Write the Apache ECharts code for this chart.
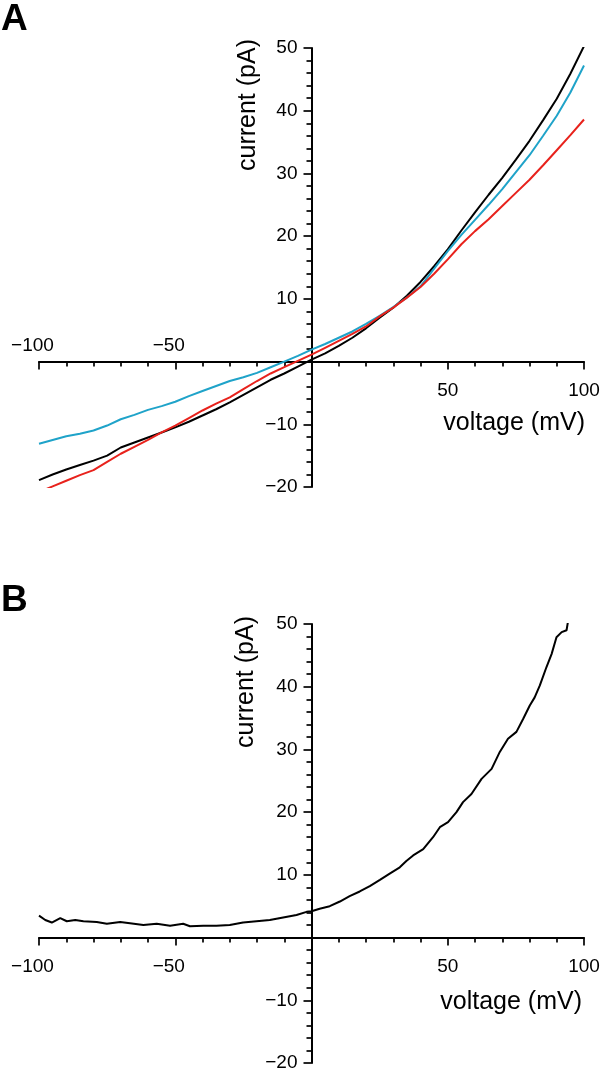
<!DOCTYPE html>
<html><head><meta charset="utf-8">
<script src="https://cdn.jsdelivr.net/npm/echarts@6/dist/echarts.min.js"></script>
<style>html,body{margin:0;padding:0;background:#fff}#c{width:602px;height:1079px}</style>
</head><body><div id="c"></div>
<script>
// ---- Panel A data (voltage mV, current pA) ----
const voltageA = [-100,-95,-90,-85,-80,-75,-70,-65,-60,-55,-50,-45,-40,-35,-30,-25,-20,-15,-10,-5,0,5,10,15,20,25,30,35,40,45,50,55,60,65,70,75,80,85,90,95,100];
const blackA = [-18.9,-18.0,-17.2,-16.5,-15.8,-15.0,-13.7,-12.9,-12.1,-11.3,-10.5,-9.6,-8.6,-7.6,-6.5,-5.3,-4.1,-2.9,-1.9,-0.8,0.3,1.3,2.5,3.8,5.3,7.0,8.6,10.5,12.7,15.2,17.9,20.9,23.8,26.6,29.3,32.2,35.2,38.5,41.9,45.9,50.3];
const cyanA = [-13.1,-12.5,-11.9,-11.5,-11.0,-10.2,-9.2,-8.5,-7.7,-7.1,-6.4,-5.5,-4.7,-3.9,-3.1,-2.5,-1.8,-0.9,0.0,0.9,1.9,2.8,3.8,4.8,6.0,7.3,8.7,10.2,12.0,14.8,17.6,20.2,22.6,25.0,27.5,30.2,32.9,36.0,39.2,42.9,47.2];
const redA = [-20.8,-19.9,-19.0,-18.1,-17.3,-16.0,-14.7,-13.6,-12.5,-11.3,-10.2,-9.0,-7.8,-6.7,-5.7,-4.4,-3.1,-1.9,-0.9,0.1,1.1,2.2,3.3,4.4,5.6,7.2,8.6,10.2,11.9,14.0,16.3,18.7,20.8,22.7,24.8,26.9,29.0,31.3,33.7,36.1,38.6];

// ---- Panel B data ----
const voltageB = [-100,-99.3,-97.7,-95.3,-92.2,-89.8,-86.7,-83.7,-78.8,-75.1,-70.2,-66.6,-61.7,-56.8,-51.9,-47.1,-44.6,-39.7,-34.9,-30,-25.1,-20.2,-15.3,-10.4,-5.5,-1.8,0,3,6.7,10.4,14,17.7,21.4,25.1,28.7,32.4,34.8,37.3,41,44.6,47.1,50.1,53.2,55.6,58.7,62.4,66.1,69.1,72.1,75.2,77.7,80.1,81.9,83.8,86.2,88.1,89.9,91.8,93.6,94.2];
const currentB = [3.5,3.8,2.8,2.4,3.1,2.6,2.8,2.6,2.5,2.2,2.5,2.3,2.0,2.2,1.9,2.2,1.8,1.9,1.9,2.0,2.4,2.6,2.8,3.2,3.6,4.1,4.2,4.6,5.0,5.75,6.6,7.35,8.2,9.2,10.2,11.2,12.2,13.1,14.1,16.0,17.6,18.4,20.0,21.6,22.9,25.3,26.9,29.6,31.7,32.8,34.9,37.0,38.3,40.2,43.1,45.2,47.9,48.7,49.0,50.6];

// ---- Axis / text ----
const xRange = [-100, 100];
const yRange = [-20, 50];
const xLabel = 'voltage (mV)';
const yLabel = 'current (pA)';
const panelLabels = ['A', 'B'];

const FONT = '"Liberation Sans", Arial, Helvetica, sans-serif';
const LBL = 19;
const minus = v => (v < 0 ? '\u2212' + (-v) : String(v));

const chart = echarts.init(document.getElementById('c'), null, {renderer: 'canvas'});

const W = 602;
const grids = [
  {left: 39, right: 18, top: 48, height: 439},
  {left: 39, right: 18, top: 624, height: 439}
];
// offsets that place each axis line at the other axis' zero
const xAxisOffset = g => -g.height * (0 - yRange[0]) / (yRange[1] - yRange[0]);
const yAxisOffset = g => -(W - g.left - g.right) * (0 - xRange[0]) / (xRange[1] - xRange[0]);

const axisLineStyle = {color: '#000', width: 2};
const tickStyle = {color: '#000', width: 1.7};

function xAxisBase(gridIndex) {
  return {
    gridIndex, type: 'value', min: xRange[0], max: xRange[1], interval: 50,
    position: 'bottom', offset: xAxisOffset(grids[gridIndex]),
    splitLine: {show: false}, minorSplitLine: {show: false},
    axisLine: {show: true, onZero: false, lineStyle: axisLineStyle},
    axisTick: {show: true, length: 8, lineStyle: tickStyle},
    minorTick: {show: true, splitNumber: 5, length: 5, lineStyle: tickStyle}
  };
}

const negRich = {
  d: {fontSize: LBL, fontFamily: FONT, color: '#000', padding: [0, 13, 0, 0]}
};

const xAxes = [
  Object.assign(xAxisBase(0), {
    axisLabel: {margin: 20, fontSize: LBL, fontFamily: FONT, color: '#000',
      formatter: v => (v > 0 ? String(v) : '')}
  }),
  Object.assign(xAxisBase(0), {
    axisLine: {show: false, onZero: false},
    axisTick: {show: false}, minorTick: {show: false},
    axisLabel: {inside: true, margin: 6, fontSize: LBL, fontFamily: FONT, color: '#000',
      formatter: v => (v < 0 ? '{d|' + minus(v) + '}' : ''), rich: negRich}
  }),
  Object.assign(xAxisBase(1), {
    axisLabel: {margin: 20, fontSize: LBL, fontFamily: FONT, color: '#000',
      formatter: v => (v === 0 ? '' : (v < 0 ? '{d|' + minus(v) + '}' : String(v))), rich: negRich}
  })
];

function yAxisBase(gridIndex) {
  return {
    gridIndex, type: 'value', min: yRange[0], max: yRange[1], interval: 10,
    position: 'left', offset: yAxisOffset(grids[gridIndex]),
    splitLine: {show: false}, minorSplitLine: {show: false},
    axisLine: {show: true, onZero: false, lineStyle: axisLineStyle},
    axisTick: {show: true, length: 8, lineStyle: tickStyle},
    minorTick: {show: true, splitNumber: 5, length: 5, lineStyle: tickStyle},
    axisLabel: {margin: 14, fontSize: LBL, fontFamily: FONT, color: '#000', padding: [8, 0, 0, 0],
      formatter: v => (v === 0 ? '' : minus(v))}
  };
}

const yAxes = [yAxisBase(0), yAxisBase(1)];

function lineSeries(xi, yi, xs, ys, color) {
  return {
    type: 'line', xAxisIndex: xi, yAxisIndex: yi,
    data: xs.map((x, i) => [x, ys[i]]),
    showSymbol: false, symbol: 'none', smooth: false,
    lineStyle: {color, width: 2}, itemStyle: {color},
    emphasis: {disabled: true}, silent: true
  };
}

function txt(text, x, y, size, opts) {
  opts = opts || {};
  return {
    type: 'text', x, y, rotation: opts.rotation || 0,
    style: {text, fontSize: size, fontFamily: FONT, fontWeight: opts.bold ? 'bold' : 'normal',
      fill: '#000', textAlign: opts.align || 'center', textVerticalAlign: 'middle'}
  };
}

chart.setOption({
  animation: false,
  backgroundColor: '#fff',
  grid: grids.map(g => Object.assign({outerBoundsMode: 'none', containLabel: false}, g)),
  xAxis: xAxes,
  yAxis: yAxes,
  series: [
    lineSeries(0, 0, voltageA, blackA, '#000000'),
    lineSeries(0, 0, voltageA, cyanA, '#1fa3c9'),
    lineSeries(0, 0, voltageA, redA, '#e8221c'),
    lineSeries(2, 1, voltageB, currentB, '#000000')
  ],
  graphic: [
    txt(panelLabels[0], 1, 20, 37, {bold: true, align: 'left'}),
    txt(panelLabels[1], 1, 601, 37, {bold: true, align: 'left'}),
    txt(yLabel, 248, 105, 25, {rotation: Math.PI / 2}),
    txt(yLabel, 246, 682, 25, {rotation: Math.PI / 2}),
    txt(xLabel, 585, 423, 25, {align: 'right'}),
    txt(xLabel, 582, 1002, 25, {align: 'right'})
  ]
});
</script>
</body></html>
